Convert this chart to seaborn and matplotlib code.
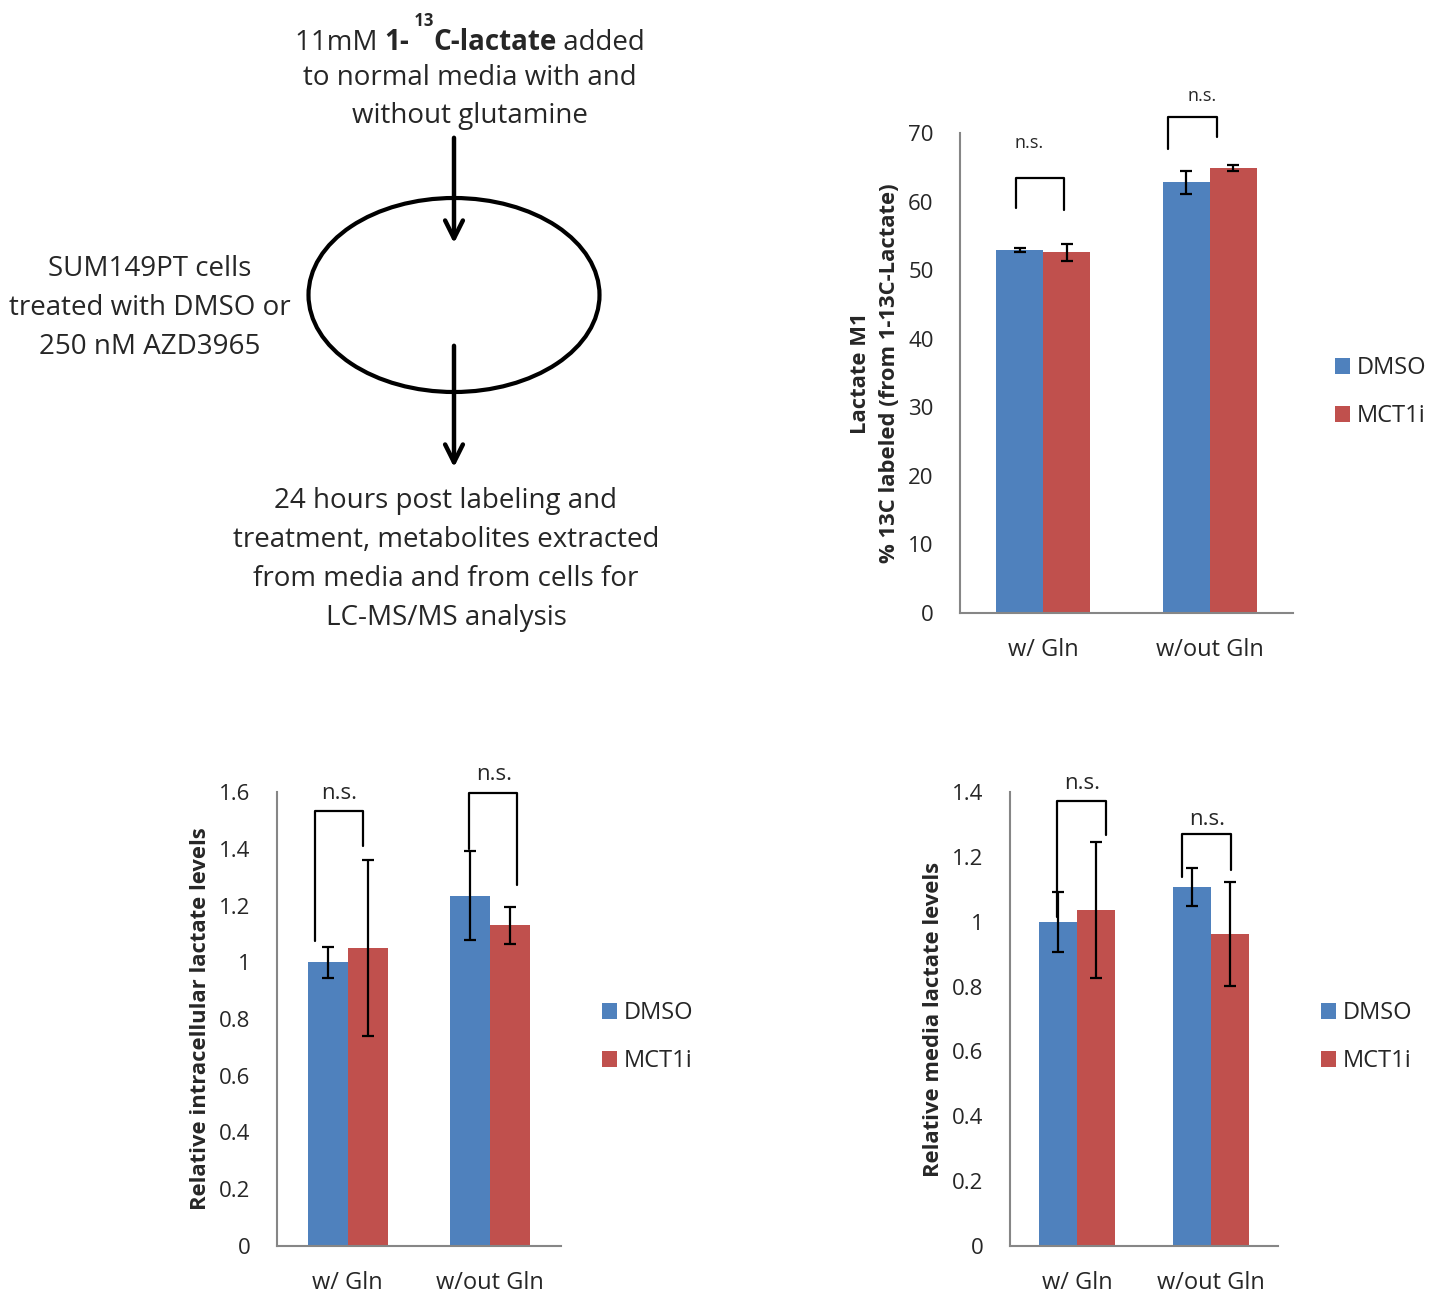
import numpy as np
import pandas as pd
import matplotlib
matplotlib.use('Agg')
import matplotlib.pyplot as plt
import seaborn as sns
from matplotlib.patches import Ellipse
from matplotlib.ticker import FuncFormatter

# data
conditions = ['w/ Gln', 'w/out Gln']
treatments = ['DMSO', 'MCT1i']
colors = ['#4F81BD', '#C0504D']

m1_dmso = [52.9, 62.8]
m1_mct1i = [52.6, 64.9]
m1_dmso_err = [0.3, 1.7]
m1_mct1i_err = [1.25, 0.4]

intra_dmso = [1.0, 1.235]
intra_mct1i = [1.05, 1.13]
intra_dmso_err = [0.054, 0.157]
intra_mct1i_err = [0.31, 0.065]

media_dmso = [1.0, 1.108]
media_mct1i = [1.036, 0.962]
media_dmso_err = [0.092, 0.058]
media_mct1i_err = [0.209, 0.159]

sns.set_style('white')
plt.rcParams['font.family'] = ['Open Sans', 'DejaVu Sans']
GRAY = '#868686'

fig = plt.figure(figsize=(14.4, 12.94), dpi=100)

# ---- schematic (pixel coordinates) ----
ax0 = fig.add_axes([0, 0, 1, 1])
ax0.set_xlim(0, 1440)
ax0.set_ylim(1294, 0)
ax0.axis('off')

ax0.add_patch(Ellipse((454, 295), 291, 194, fill=False, lw=3, ec='black'))
ax0.annotate('', xy=(454, 246), xytext=(454, 135),
             arrowprops=dict(arrowstyle='->', lw=3.2, color='black', mutation_scale=32))
ax0.annotate('', xy=(454, 470), xytext=(454, 343),
             arrowprops=dict(arrowstyle='->', lw=3.2, color='black', mutation_scale=32))

fs = 20
t1 = ax0.text(298, 50, '11mM ', fontsize=fs, va='baseline', ha='left')
t2 = ax0.annotate('1-', xy=(1, 0), xycoords=t1, va='bottom', ha='left', fontsize=fs, fontweight='bold')
t3 = ax0.annotate(' 13', xy=(1, 1.25), xycoords=t2, va='center', ha='left', fontsize=12, fontweight='bold')
t4 = ax0.annotate('C-lactate', xy=(1, 0), xycoords=(t3, t2), va='bottom', ha='left', fontsize=fs, fontweight='bold')
t5 = ax0.annotate(' added', xy=(1, 0), xycoords=t4, va='bottom', ha='left', fontsize=fs)

for txt, y in zip(['to normal media with and', 'without glutamine'], [78, 116]):
    ax0.text(470, y, txt, fontsize=fs, ha='center', va='center')
for txt, y in zip(['SUM149PT cells', 'treated with DMSO or', '250 nM AZD3965'], [269, 308, 347]):
    ax0.text(150, y, txt, fontsize=fs, ha='center', va='center')
for txt, y in zip(['24 hours post labeling and', 'treatment, metabolites extracted',
                   'from media and from cells for', 'LC-MS/MS analysis'], [501, 540, 579, 618]):
    ax0.text(446, y, txt, fontsize=fs, ha='center', va='center')


def draw_panel(ax, dmso, mct1i, dmso_err, mct1i_err, ymax, ystep, ylabel, brackets, ns_size, leg_x):
    df = pd.DataFrame({'condition': conditions * 2,
                       'treatment': [treatments[0]] * 2 + [treatments[1]] * 2,
                       'value': dmso + mct1i})
    sns.barplot(data=df, x='condition', y='value', hue='treatment', palette=colors,
                saturation=1, width=0.566, errorbar=None, ax=ax, linewidth=0)
    for cont, err in zip(ax.containers, [dmso_err, mct1i_err]):
        xs = [b.get_x() + b.get_width() / 2 for b in cont]
        ys = [b.get_height() for b in cont]
        ax.errorbar(xs, ys, yerr=err, fmt='none', ecolor='black',
                    elinewidth=1.6, capsize=4.5, capthick=1.6)

    # significance brackets: (center, left dx, right dx, left bottom, top, right bottom, text y, text dx)
    for c, ldx, rdx, lb, top, rb, ty, tdx in brackets:
        ax.plot([c + ldx, c + ldx, c + rdx, c + rdx], [lb, top, top, rb],
                color='black', lw=1.6, clip_on=False)
        ax.text(c + tdx, ty, 'n.s.', ha='center', va='center', fontsize=ns_size, clip_on=False)

    ax.set_xlim(-0.5, 1.5)
    ax.set_ylim(0, ymax)
    ax.set_yticks(np.arange(0, ymax + ystep / 2, ystep))
    ax.yaxis.set_major_formatter(FuncFormatter(lambda v, p: '{:g}'.format(round(v, 2))))
    ax.set_xticks([-0.5, 0.5, 1.5])
    ax.set_xticklabels([])
    ax.set_xticks([0, 1], minor=True)
    ax.set_xticklabels(conditions, minor=True)
    ax.tick_params(axis='x', which='minor', length=0, labelsize=17, pad=18)
    ax.tick_params(axis='x', which='major', length=7, width=1.5, color=GRAY, direction='out')
    ax.tick_params(axis='y', length=7, width=1.5, color=GRAY, direction='out', labelsize=16, pad=12)
    ax.set_xlabel('')
    ax.set_ylabel(ylabel, fontsize=15.8, fontweight='bold', labelpad=6, linespacing=1.5)
    sns.despine(ax=ax)
    for s in ['left', 'bottom']:
        ax.spines[s].set_color(GRAY)
        ax.spines[s].set_linewidth(1.5)
    handles, labels = ax.get_legend_handles_labels()
    ax.legend(handles, labels, loc='center left', bbox_to_anchor=(leg_x, 0.46), frameon=False,
              fontsize=17, handlelength=0.64, handleheight=0.64, labelspacing=1.02,
              handletextpad=0.3, borderaxespad=0, borderpad=0)


ax1 = fig.add_axes([960 / 1440, 1 - 613 / 1294, 333 / 1440, 480 / 1294])
draw_panel(ax1, m1_dmso, m1_mct1i, m1_dmso_err, m1_mct1i_err, 70, 10,
           'Lactate M1\n% 13C labeled (from 1-13C-Lactate)',
           [(0, -0.165, 0.125, 59.0, 63.5, 58.8, 68.6, -0.086),
            (1, -0.253, 0.042, 67.6, 72.4, 69.4, 75.4, -0.047)],
           13, 1.126)

ax2 = fig.add_axes([276.7 / 1440, 1 - 1246 / 1294, 284 / 1440, 454 / 1294])
draw_panel(ax2, intra_dmso, intra_mct1i, intra_dmso_err, intra_mct1i_err, 1.6, 0.2,
           'Relative intracellular lactate levels',
           [(0, -0.231, 0.107, 1.074, 1.532, 1.411, 1.594, -0.06),
            (1, -0.145, 0.19, 1.399, 1.598, 1.273, 1.66, 0.03)],
           16, 1.145)

ax3 = fig.add_axes([1010 / 1440, 1 - 1246 / 1294, 268 / 1440, 454 / 1294])
draw_panel(ax3, media_dmso, media_mct1i, media_dmso_err, media_mct1i_err, 1.4, 0.2,
           'Relative media lactate levels',
           [(0, -0.149, 0.215, 1.016, 1.372, 1.267, 1.426, 0.036),
            (1, -0.213, 0.149, 1.139, 1.269, 1.161, 1.316, -0.03)],
           16, 1.16)

# center the mixed-style first line of the schematic on x = 470
fig.canvas.draw()
r = fig.canvas.get_renderer()
w = t5.get_window_extent(r).x1 - t1.get_window_extent(r).x0
t1.set_x(470 - w / 2)

fig.savefig('out.png', dpi=100)
